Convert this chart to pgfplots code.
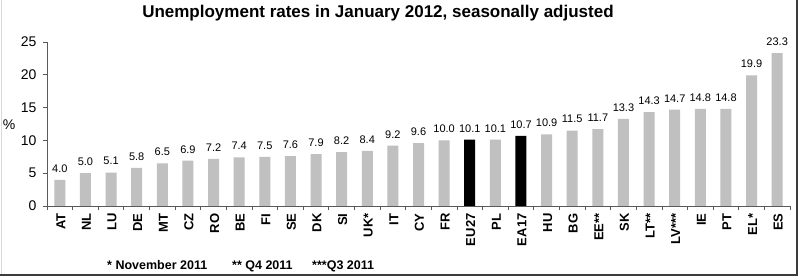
\documentclass[border=0pt]{standalone}
\usepackage{pgfplots}
\pgfplotsset{compat=1.18}
\usepackage{pgfplotstable}
\usepackage{fontspec}
\setmainfont{Liberation Sans}

\definecolor{bargray}{RGB}{192,192,192}
\definecolor{axisgray}{RGB}{90,90,90}
\definecolor{framegray}{RGB}{60,60,60}

% Member states (grey bars), position on the axis and rate in %
\pgfplotstableread{
pos rate
0 4.0
1 5.0
2 5.1
3 5.8
4 6.5
5 6.9
6 7.2
7 7.4
8 7.5
9 7.6
10 7.9
11 8.2
12 8.4
13 9.2
14 9.6
15 10.0
17 10.1
19 10.9
20 11.5
21 11.7
22 13.3
23 14.3
24 14.7
25 14.8
26 14.8
27 19.9
28 23.3
}\countries

% Aggregates EU27 and EA17 (black bars)
\pgfplotstableread{
pos rate
16 10.1
18 10.7
}\aggregates

\begin{document}
\begin{tikzpicture}
\path[use as bounding box] (0pt,0pt) rectangle (800pt,278pt);
\fill[white] (0pt,0pt) rectangle (800pt,278pt);

\begin{axis}[
  at={(47pt,72pt)}, anchor=south west,
  scale only axis, width=743pt, height=164pt,
  xmin=-0.5, xmax=28.5, ymin=0, ymax=25,
  axis x line=bottom, axis y line=left,
  axis line style={-, axisgray, line width=0.8pt},
  tick style={axisgray, line width=0.8pt},
  tick align=outside,
  major tick length=4pt, minor tick length=4pt,
  xtick={0,...,28},
  major x tick style={draw=none},
  minor xtick={-0.5,0.5,...,28.5},
  xticklabels={AT,NL,LU,DE,MT,CZ,RO,BE,FI,SE,DK,SI,UK*,IT,CY,FR,EU27,PL,EA17,HU,BG,EE**,SK,LT**,LV***,IE,PT,EL*,ES},
  xticklabel style={rotate=90, anchor=east, font=\bfseries\fontsize{13}{15}\selectfont, yshift=-1pt},
  ytick={0,5,...,25},
  yticklabel style={font=\fontsize{14}{16}\selectfont, xshift=-3pt},
  /pgf/number format/assume math mode=true,
  ybar, bar width=11pt, bar shift=0pt,
  nodes near coords,
  every node near coord/.append style={font=\fontsize{11}{13}\selectfont, black, yshift=4pt,
    /pgf/number format/fixed, /pgf/number format/fixed zerofill, /pgf/number format/precision=1},
  clip=false,
]
\addplot[fill=bargray, draw=none] table[x=pos, y=rate] {\countries};
\addplot[fill=black, draw=none] table[x=pos, y=rate] {\aggregates};
\end{axis}

\node[font=\bfseries\fontsize{17}{20}\selectfont] at (378pt,265pt) {Unemployment rates in January 2012, seasonally adjusted};
\node[font=\fontsize{14}{16}\selectfont] at (9pt,153pt) {\%};

\node[anchor=base west, font=\bfseries\fontsize{12.5}{15}\selectfont, inner sep=0pt] at (107pt,8pt) {* November 2011};
\node[anchor=base west, font=\bfseries\fontsize{12.5}{15}\selectfont, inner sep=0pt] at (232pt,8pt) {** Q4 2011};
\node[anchor=base west, font=\bfseries\fontsize{12.5}{15}\selectfont, inner sep=0pt] at (312pt,8pt) {***Q3 2011};

% frame round the figure
\draw[gray!30, line width=0.8pt] (1pt,3pt) -- (1pt,278pt);
\draw[framegray, line width=1.6pt] (0pt,3pt) -- (797pt,3pt) -- (797pt,278pt);
\end{tikzpicture}
\end{document}
